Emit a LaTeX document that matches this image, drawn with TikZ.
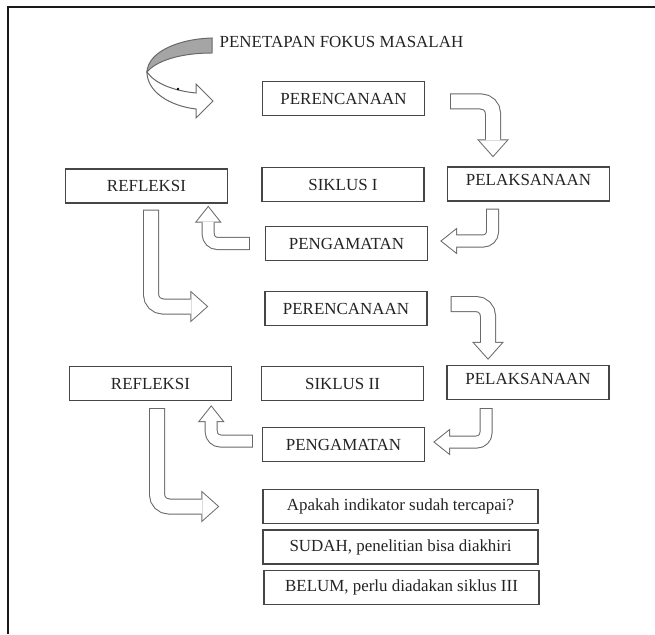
\documentclass[tikz,border=0pt]{standalone}
\usepackage{fontspec}
\setmainfont{Liberation Serif}
\usetikzlibrary{arrows.meta,calc}

\definecolor{framecol}{RGB}{25,25,25}
\definecolor{boxline}{RGB}{70,70,70}
\definecolor{arrowline}{RGB}{105,105,105}
\definecolor{shade}{RGB}{165,165,165}
\definecolor{textcol}{RGB}{35,35,35}

\tikzset{every picture/.style={line width=0.75pt}}
\tikzset{
  titletext/.style={inner sep=0.75pt, text=textcol, font=\fontsize{12.7pt}{15pt}\selectfont},
  stagebox/.style={draw=boxline, line width=1.1pt, minimum width=121.5pt, minimum height=25.5pt,
    inner sep=0pt, text=textcol, font=\fontsize{12.7pt}{15pt}\selectfont},
  raised/.style={text depth=6pt},
  answerbox/.style={stagebox, minimum width=206.25pt, text height=9pt, text depth=3pt},
  bigarrow/.style={draw=arrowline, line width=12pt, rounded corners=9pt,
    -{Triangle[length=13.5pt,width=24pt,line width=0pt]},
    postaction={draw=white, line width=10.5pt, shorten <=0.75pt, shorten >=1.125pt,
      -{Triangle[length=11.6pt,width=20.7pt,line width=0pt]}}},
  smallarrow/.style={draw=arrowline, line width=9.75pt, rounded corners=7pt,
    -{Triangle[length=12.75pt,width=20.25pt,line width=0pt]},
    postaction={draw=white, line width=8.25pt, shorten <=0.75pt, shorten >=1.2pt,
      -{Triangle[length=10.8pt,width=17.15pt,line width=0pt]}}}
}

\begin{document}
\begin{tikzpicture}[x=0.75pt,y=0.75pt,yscale=-1,xscale=1]
\useasboundingbox (0,0) rectangle (655,634);

%Shape: Frame [top and left edge]
\draw [color=framecol, line width=1.5pt] (8,634) -- (8,7) -- (655,7) ;

%Shape: Curved Right Arrow
\draw [color=arrowline, fill=shade] (212,38) .. controls (178,39) and (148,52) .. (147,72) .. controls (156,61) and (180,53) .. (212,53) -- cycle ;
\draw [color=arrowline, fill=white] (147,72) .. controls (147,92) and (170,106) .. (196,109) -- (196,118) -- (213,101) -- (196,84) -- (196,93) .. controls (175,91) and (155,84) .. (147,72) -- cycle ;
\fill (178,89) circle (1.3) ;

% Text Node
\draw (341.5,42) node [titletext] (judul) {PENETAPAN FOKUS MASALAH};

% Siklus I
\draw (343.5,98.5) node [stagebox] (per1) {PERENCANAAN};
\draw (146.5,186) node [stagebox] (ref1) {REFLEKSI};
\draw (343,184.5) node [stagebox] (sik1) {SIKLUS I};
\draw (528.5,184) node [stagebox, raised] (pel1) {PELAKSANAAN};
\draw (346.5,243.5) node [stagebox] (pen1) {PENGAMATAN};

% Siklus II
\draw (346,308.5) node [stagebox] (per2) {PERENCANAAN};
\draw (150.5,383.5) node [stagebox] (ref2) {REFLEKSI};
\draw (342.5,383.5) node [stagebox] (sik2) {SIKLUS II};
\draw (528,382.5) node [stagebox, raised] (pel2) {PELAKSANAAN};
\draw (343.5,444.5) node [stagebox] (pen2) {PENGAMATAN};

% Keputusan
\draw (400.5,506.5) node [answerbox] (tanya) {Apakah indikator sudah tercapai?};
\draw (400.5,547) node [answerbox] (sudah) {SUDAH, penelitian bisa diakhiri};
\draw (401.5,587.5) node [answerbox] (belum) {BELUM, perlu diadakan siklus III};

%Shape: Bent Arrows
\draw [bigarrow] ($(per1.east)+(25,3)$) -| ($(pel1.north)+(-35.5,-9)$) ;
\draw [smallarrow] ($(pel1.south)+(-36,7)$) |- ($(pen1.east)+(12,-2.5)$) ;
\draw [smallarrow] ($(pen1.west)+(-15,0)$) -| ($(ref1.south east)+(-20,2)$) ;
\draw [bigarrow] ($(ref1.south)+(4.5,6)$) |- ($(per2.west)+(-56,-2)$) ;
\draw [bigarrow] ($(per2.east)+(23,-4.5)$) -| ($(pel2.north)+(-40,-5)$) ;
\draw [smallarrow] ($(pel2.south)+(-42,8)$) |- ($(pen2.east)+(8,-2.5)$) ;
\draw [smallarrow] ($(pen2.west)+(-9,-3.5)$) -| ($(ref2.south east)+(-21,4)$) ;
\draw [bigarrow] ($(ref2.south)+(6.5,7)$) |- ($(tanya.west)+(-43,0)$) ;

\end{tikzpicture}
\end{document}
